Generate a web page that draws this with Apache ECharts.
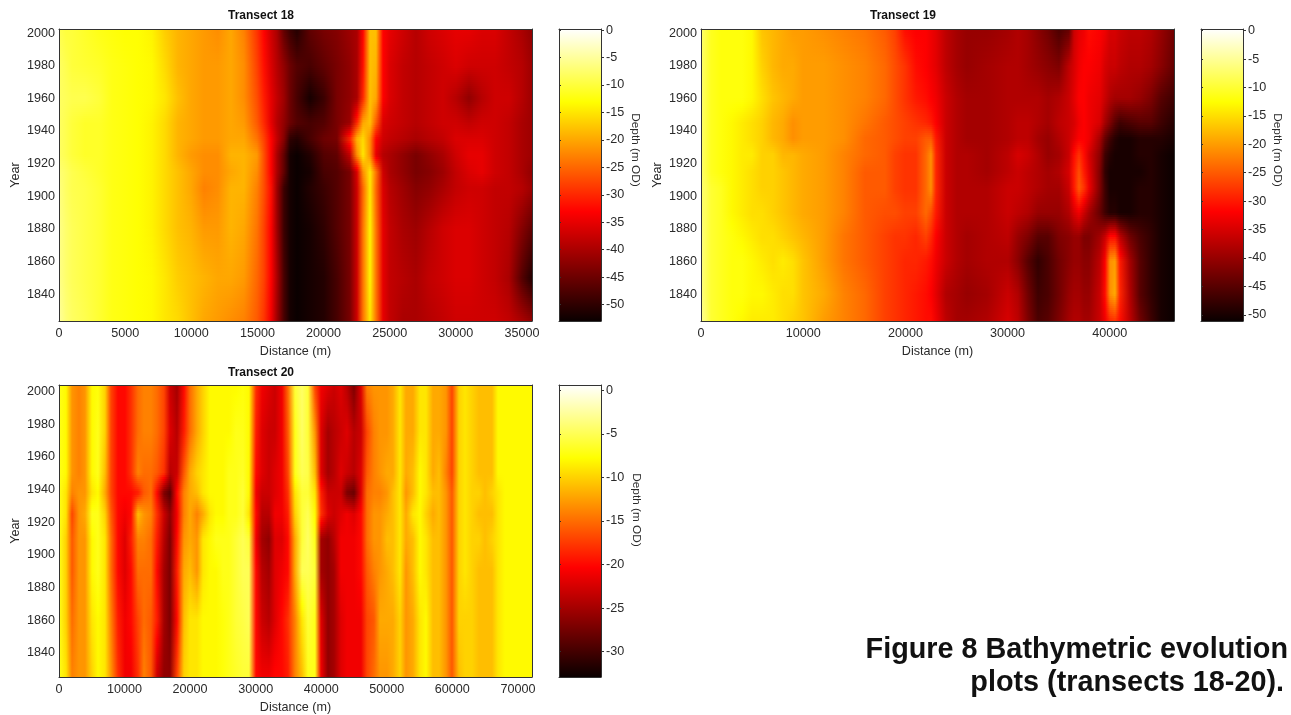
<!DOCTYPE html>
<html><head><meta charset="utf-8"><style>html,body{margin:0;padding:0;background:#fff}#c{width:1291px;height:715px}</style>
<script src="https://cdn.jsdelivr.net/npm/echarts@6/dist/echarts.min.js"></script></head><body><div id="c"></div>
<script>
// ---------- Transect 18 ----------
const t18Distance=[0,500,1000,2000,3000,4000,5000,6000,7000,8000,9000,10000,11000,12000,13000,14000,15000,15500,16000,16500,17000,17500,18000,19000,20000,21000,22000,22500,23000,23500,24000,24500,25000,26000,27000,28000,29000,30000,31000,32000,33000,34000,35000,35760];
const t18Years=[1823.5,1850,1880,1905,1915,1925,1935,1945,1960,1980,2002.5];
const t18Depth=[
[-5,-7,-8,-9,-10.5,-12,-12.5,-13,-13.5,-15,-16,-18,-20,-21,-22,-23,-26,-29,-34,-41,-48,-52,-53,-52,-51,-48,-44,-37,-24,-15,-24,-35,-38,-40,-40,-39,-38,-37,-37,-37,-37,-38,-40,-42],
[-6,-7.5,-8.5,-9.5,-10.5,-12,-12.5,-13,-13.5,-15,-17,-18,-19,-20,-20,-21,-25,-28,-33,-40,-48,-52,-53,-52,-51,-48,-44,-37,-24,-14,-24,-35,-38,-39,-40,-38,-37,-36,-36,-37,-38,-40,-47,-51],
[-6,-7.5,-8.5,-9.5,-10.5,-12,-12.5,-13,-14,-16,-18,-19,-21,-21,-19,-20,-24,-28,-33,-41,-49,-52,-53,-52,-50,-47,-44,-37,-24,-14,-24,-35,-38,-40,-41,-39,-37,-36,-36,-37,-38,-39,-43,-46],
[-6.5,-8,-9,-9.5,-10.5,-12,-12.5,-13,-14,-16,-18,-20,-23,-22,-19,-19,-23,-27,-32,-41,-49,-52,-53,-51,-49,-47,-44,-37,-25,-15,-25,-36,-39,-41,-43,-42,-40,-38,-37,-37,-38,-38,-39,-41],
[-7,-8,-9,-10,-11,-12,-12.5,-13,-14,-16,-18,-20,-22,-22,-20,-19,-22,-27,-33,-40,-46,-52,-53,-52,-48,-47,-44,-36,-22,-15,-24,-37,-40,-42,-44,-43,-41,-38,-36,-35,-37,-38,-40,-42],
[-8,-9,-10,-11,-11,-12,-12.5,-13,-14,-16,-19,-21,-22,-22,-19,-19,-21,-27,-33,-40,-46,-52,-53,-51,-47,-46,-38,-22,-15,-22,-35,-39,-40,-42,-44,-42,-40,-37,-35,-35,-37,-38,-40,-41],
[-8,-9,-10,-11,-11,-12,-12.5,-13,-14,-16,-19,-20,-21,-21,-20,-20,-24,-28,-33,-38,-43,-50,-51,-48,-45,-44,-30,-19,-16,-22,-33,-37,-38,-39,-40,-39,-38,-36,-36,-36,-37,-38,-40,-41],
[-8,-9,-10,-11,-11,-12,-12.5,-13,-14,-16,-19,-20,-21,-21,-20,-21,-26,-30,-35,-39,-42,-45,-47,-48,-47,-44,-41,-30,-20,-18,-26,-36,-37,-38,-39,-38,-37,-37,-38,-37,-37,-38,-40,-41],
[-8,-8.5,-9,-9,-10,-12,-12.5,-13,-13.5,-15,-18,-20,-21,-21,-20,-22,-27,-31,-35,-38,-41,-45,-48,-52,-49,-44,-42,-40,-30,-18,-20,-33,-36,-38,-39,-38,-37,-39,-42,-39,-37,-37,-39,-41],
[-8,-9,-10,-10.5,-11,-12,-12.5,-13,-13.5,-16,-19,-20,-21,-21,-20,-22,-28,-32,-36,-39,-42,-45,-47,-48,-46,-44,-42,-40,-32,-18,-19,-33,-36,-38,-39,-38,-37,-36,-37,-37,-37,-38,-39,-41],
[-9,-10,-10,-11,-12,-12.5,-13,-13,-14,-17,-19,-20,-21,-22,-20,-23,-29,-33,-37,-40,-46,-49,-51,-46,-44,-43,-41,-40,-33,-18,-18,-33,-35,-37,-39,-37,-36,-35,-35,-36,-36,-38,-40,-42]
];
// ---------- Transect 19 ----------
const t19Distance=[0,500,1000,2000,3000,4000,5000,6000,7000,8000,9000,10000,12000,14000,16000,18000,19000,20000,21000,22000,22500,23000,24000,25000,26000,28000,30000,31000,32000,33000,34000,35000,36000,36500,37000,37500,38000,39000,39500,40000,40500,41000,42000,43000,44000,45000,46280];
const t19Years=[1823.5,1840,1860,1875,1890,1905,1915,1925,1935,1945,1960,1980,2002.5];
const t19Depth=[
[-5,-7,-10,-11,-12,-13,-14,-14,-14,-15,-16,-17,-20,-22,-24,-27,-28,-29,-30,-31,-31,-33,-37,-39,-39,-38,-35,-37,-42,-46,-45,-42,-39,-38,-38,-39,-39,-36,-33,-29,-28,-31,-37,-43,-47,-50,-51],
[-6,-8,-10,-11,-12,-12,-13,-13,-14,-15,-15,-17,-19,-22,-24,-27,-28,-29,-30,-31,-32,-34,-38,-39,-40,-39,-36,-38,-43,-47,-46,-43,-40,-39,-39,-40,-40,-36,-31,-21,-19,-29,-38,-45,-48,-50,-51],
[-6,-8,-10,-11,-12,-12,-13,-14,-15,-14,-15,-17,-20,-23,-25,-27,-28,-29,-29,-30,-31,-33,-36,-38,-39,-38,-38,-41,-45,-48,-46,-43,-41,-40,-40,-41,-41,-37,-32,-21,-20,-30,-39,-45,-48,-50,-51],
[-6,-8,-10,-11,-12,-13,-14,-15,-15,-16,-17,-18,-20,-23,-25,-27,-28,-28,-29,-27,-29,-32,-36,-38,-39,-38,-37,-40,-42,-45,-45,-42,-41,-40,-40,-42,-42,-39,-36,-31,-31,-37,-43,-46,-48,-50,-51],
[-7,-8,-10,-11,-13,-14,-15,-15,-16,-17,-18,-19,-20,-22,-25,-26,-26,-27,-27,-24,-26,-30,-36,-38,-38,-38,-36,-37,-38,-40,-40,-40,-38,-35,-33,-36,-39,-44,-47,-49,-49,-50,-50,-49,-49,-50,-51],
[-7,-8,-10,-11,-13,-14,-15,-16,-16,-17,-18,-19,-20,-22,-25,-25,-27,-28,-28,-24,-21,-29,-36,-38,-38,-38,-36,-36,-37,-38,-39,-39,-36,-30,-25,-28,-33,-42,-47,-50,-50,-50,-50,-49,-49,-50,-51],
[-7,-9,-11,-12,-13,-14,-15,-16,-16,-17,-18,-19,-20,-22,-25,-25,-27,-28,-28,-24,-21,-29,-36,-38,-38,-39,-37,-36,-37,-38,-39,-38,-35,-30,-26,-30,-34,-42,-48,-50,-50,-50,-50,-50,-49,-50,-51],
[-7,-9,-11,-12,-13,-14,-14,-16,-16,-18,-18,-19,-20,-22,-24,-25,-27,-28,-28,-24,-21,-29,-36,-38,-38,-39,-37,-35,-36,-38,-40,-39,-36,-31,-28,-31,-35,-41,-47,-49,-50,-50,-50,-49,-49,-50,-51],
[-7,-9,-11,-12,-13,-14,-15,-16,-18,-19,-21,-20,-20,-21,-24,-25,-26,-27,-27,-25,-25,-30,-36,-38,-39,-39,-38,-37,-37,-39,-40,-38,-36,-34,-32,-32,-33,-39,-44,-47,-49,-50,-50,-49,-49,-49,-50],
[-7,-9,-11,-12,-13,-14,-15,-16,-18,-19,-21,-20,-20,-21,-23,-25,-26,-27,-28,-29,-30,-32,-36,-38,-39,-39,-38,-37,-37,-38,-39,-37,-36,-35,-33,-32,-33,-35,-39,-42,-45,-47,-46,-45,-45,-47,-49],
[-7,-9,-11,-12,-12,-12,-13,-15,-17,-18,-19,-20,-20,-21,-22,-24,-26,-28,-30,-31,-32,-33,-36,-38,-39,-39,-38,-38,-38,-38,-39,-38,-36,-34,-32,-32,-33,-34,-36,-38,-39,-39,-39,-40,-42,-45,-47],
[-7,-9,-11,-12,-12,-12,-13,-16,-18,-19,-19,-20,-20,-21,-22,-24,-26,-28,-31,-32,-33,-34,-37,-39,-40,-39,-38,-38,-39,-40,-41,-42,-37,-35,-33,-32,-32,-33,-35,-36,-36,-37,-38,-38,-39,-41,-44],
[-7,-9,-11,-12,-12,-12,-13,-17,-18,-19,-20,-20,-21,-22,-23,-25,-27,-31,-32,-32,-33,-34,-37,-39,-40,-40,-39,-38,-39,-41,-43,-46,-44,-36,-34,-33,-31,-32,-33,-35,-35,-36,-37,-37,-38,-40,-43]
];
// ---------- Transect 20 ----------
const t20Distance=[0,1000,2000,3000,4000,5000,6000,7000,8000,9000,10000,11000,12000,13000,14000,15000,16000,17000,18000,19000,20000,21000,22000,23000,24000,25000,26000,27000,28000,29000,30000,31000,32000,33000,34000,35000,36000,37000,38000,39000,40000,41000,42000,43000,44000,45000,46000,47000,48000,49000,50000,51000,52000,53000,54000,55000,56000,57000,58000,59000,60000,61000,62000,63000,64000,65000,66000,67000,68000,69000,70000,71000,72150];
const t20Years=[1825.2,1860,1890,1910,1925,1938,1950,1975,2004];
const t20Depth=[
[-7,-9,-14,-13,-13,-10,-8,-9,-13,-18,-21,-21,-18,-14,-16,-23,-26,-26,-17,-10,-9,-9,-8,-8,-8,-7.5,-7,-6.5,-6,-6,-20,-21,-21,-20,-20,-19,-14,-11,-7,-7,-21,-26,-25,-22,-21,-21,-21,-17,-15,-13,-13,-12,-10,-13,-12,-9,-8,-11,-11,-13,-16,-11,-10,-10,-11,-11,-11,-9,-8,-8,-8,-8,-8],
[-7,-10,-15,-13,-13,-9,-8,-9,-14,-19,-21,-20,-17,-15,-16,-19,-25,-27,-20,-11,-9,-9,-8,-8,-8,-7.5,-7,-6,-5.5,-5,-20,-23,-24,-22,-20,-18,-14,-9,-6,-7,-22,-26,-25,-22,-21,-21,-21,-17,-16,-12,-12,-12,-10,-13,-12,-9,-8,-11,-11,-13,-16,-10,-10,-10,-11,-11,-11,-9,-8,-8,-8,-8,-8],
[-7,-10,-16,-13,-13,-8,-7,-9,-15,-20,-22,-20,-15,-15,-15,-20,-25,-27,-19,-12,-11,-13,-9,-8,-8,-7,-7,-6,-5,-5,-20,-24,-25,-22,-21,-20,-12,-5,-5,-6,-25,-26,-25,-21,-21,-21,-20,-16,-14,-13,-12,-11,-9,-13,-11,-8,-9,-11,-11,-13,-16,-10,-9,-10,-11,-11,-11,-9,-8,-8,-8,-8,-8],
[-7,-10,-16,-13,-13,-8,-7,-9,-15,-20,-22,-19,-14,-14,-15,-19,-24,-27,-20,-13,-12,-13,-9,-8,-7,-7,-7,-6,-5,-6,-21,-25,-26,-22,-22,-20,-12,-6,-4.5,-7,-25,-26,-24,-21,-21,-21,-20,-15,-13,-13,-11,-11,-9,-12,-11,-8,-9,-11,-11,-13,-16,-10,-9,-10,-10,-11,-10,-9,-8,-8,-8,-8,-8],
[-7,-9,-17,-13,-12,-7,-7,-10,-16,-20,-21,-20,-11,-13,-14,-18,-23,-26,-21,-14,-12,-14,-12,-9,-8,-8,-7,-7,-6,-9,-20,-24,-24,-21,-21,-19,-10,-6,-5,-8,-18,-22,-23,-22,-21,-22,-20,-15,-13,-13,-12,-11,-9,-12,-9,-8,-10,-12,-11,-13,-16,-10,-9,-10,-11,-11,-11,-9,-8,-8,-8,-8,-8],
[-7,-9,-14,-13,-13,-9,-8,-12,-17,-20,-20,-20,-19,-16,-15,-20,-27,-29,-20,-14,-12,-11,-9,-8,-8,-8,-7,-7,-6,-8,-21,-23,-23,-22,-21,-18,-9,-6,-6,-9,-19,-23,-23,-23,-27,-28,-22,-15,-14,-14,-13,-11,-9,-13,-11,-8,-9,-11,-11,-13,-16,-10,-9,-10,-10,-11,-10,-9,-8,-8,-8,-8,-8],
[-7,-8,-13,-14,-13,-8,-7,-11,-17,-20,-20,-18,-14,-15,-15,-16,-18,-24,-23,-16,-12,-10,-9,-8,-8,-8,-7,-7,-6.5,-8,-20,-22,-23,-22,-21,-17,-7,-5,-5.5,-11,-22,-25,-24,-22,-23,-24,-22,-16,-14,-13,-12,-12,-9,-12,-11,-8,-9,-12,-11,-14,-17,-10,-9,-10,-11,-11,-11,-8,-8,-8,-8,-8,-8],
[-7,-8,-13,-14,-13,-8,-7,-10,-17,-20,-20,-18,-15,-14,-14,-15,-17,-22,-24,-19,-15,-12,-10,-8,-8,-8,-8,-7,-7,-8,-19,-22,-23,-23,-21,-16,-7,-4.5,-6,-13,-22,-25,-24,-23,-22,-24,-23,-17,-14,-13,-13,-12,-9,-12,-12,-9,-9,-12,-12,-13,-17,-10,-9,-10,-11,-11,-11,-8,-8,-8,-8,-8,-8],
[-7,-8,-13,-14,-13,-8,-7.5,-10,-17,-20,-20,-18,-15,-14,-14,-15,-17,-23,-25,-20,-15,-12,-10,-8,-8,-8,-8,-8,-7.5,-8,-18,-21,-22,-23,-21,-15,-6,-4.5,-6,-17,-21,-22,-23,-22,-24,-27,-22,-14,-13,-13,-13,-12,-9,-12,-12,-9,-9,-12,-12,-13,-17,-10,-9,-10,-11,-11,-11,-8,-8,-8,-8,-8,-8]
];
// ---------- Axes ticks and colour-bar ranges ----------
const yearTicks=[1840,1860,1880,1900,1920,1940,1960,1980,2000];
const t18DistanceTicks=[0,5000,10000,15000,20000,25000,30000,35000];
const t19DistanceTicks=[0,10000,20000,30000,40000];
const t20DistanceTicks=[0,10000,20000,30000,40000,50000,60000,70000];
const t18DepthTicks=[0,-5,-10,-15,-20,-25,-30,-35,-40,-45,-50];
const t19DepthTicks=[0,-5,-10,-15,-20,-25,-30,-35,-40,-45,-50];
const t20DepthTicks=[0,-5,-10,-15,-20,-25,-30];
const t18Range=[-53,0.2], t19Range=[-51.1,0.3], t20Range=[-32.9,0.6];

const FONT='"Liberation Sans", Arial, sans-serif', INK='#2a2a2a';
function hot(t){
  t=Math.max(0,Math.min(1,t));
  const r=t<.375?10+t/.375*245:255, g=t<.375?0:t<.75?(t-.375)/.375*255:255, b=t<.75?0:(t-.75)/.25*255;
  return 'rgb('+Math.round(r)+','+Math.round(g)+','+Math.round(b)+')';
}
function check(xs,ys,m){ if(m.length!==ys.length) throw new Error('rows'); m.forEach((r,i)=>{ if(r.length!==xs.length) throw new Error('row '+i+' has '+r.length+' not '+xs.length); }); }
function heatSeries(xi,yi,xs,ys,m,range){
  check(xs,ys,m);
  const data=[]; ys.forEach((y,j)=>xs.forEach((x,i)=>data.push([x,y,m[j][i],i,j])));
  const col=v=>hot((v-range[0])/(range[1]-range[0]));
  return {type:'custom',xAxisIndex:xi,yAxisIndex:yi,data,animation:false,silent:true,clip:true,z:2,
    encode:{x:0,y:1},
    renderItem(p,api){
      const i=api.value(3),j=api.value(4);
      if(i>=xs.length-1||j>=ys.length-1) return null;
      const a=api.coord([xs[i],ys[j]]), b=api.coord([xs[i+1],ys[j+1]]);
      const x0=Math.round(a[0]),x1=Math.round(b[0]),yB=Math.round(a[1]),yT=Math.round(b[1]);
      const children=[];
      for(let y=yT;y<yB;y+=2){
        const h=Math.min(2,yB-y), f=(yB-(y+h/2))/(yB-yT);
        const vL=m[j][i]+(m[j+1][i]-m[j][i])*f, vR=m[j][i+1]+(m[j+1][i+1]-m[j][i+1])*f;
        children.push({type:'rect',shape:{x:x0,y:y,width:x1-x0,height:h},
          style:{fill:{type:'linear',x:0,y:0,x2:1,y2:0,colorStops:[{offset:0,color:col(vL)},{offset:1,color:col(vR)}]}}});
      }
      return {type:'group',children};
    }};
}
function barSeries(xi,yi,range){
  return {type:'custom',xAxisIndex:xi,yAxisIndex:yi,data:[[0,range[0],range[1]]],animation:false,silent:true,z:2,
    encode:{y:[1,2]},
    renderItem(p,api){
      const a=api.coord([0,api.value(2)]), b=api.coord([1,api.value(1)]);
      return {type:'rect',shape:{x:a[0],y:a[1],width:b[0]-a[0],height:b[1]-a[1]},
        style:{fill:{type:'linear',x:0,y:0,x2:0,y2:1,colorStops:[0,.25,.625,1].map(o=>({offset:o,color:hot(1-o)}))}}};
    }};
}
const grids=[],xAxes=[],yAxes=[],series=[];
const lbl={color:INK,fontFamily:FONT,fontSize:12.6};
const lineS={show:true,onZero:false,lineStyle:{color:'#333',width:1}};
function addPanel(g,xs,ys,m,xTicks,yRange,xMax,cRange){
  const gi=grids.length; grids.push(g);
  const xi=xAxes.length, yi=yAxes.length;
  xAxes.push({type:'value',gridIndex:gi,position:'bottom',min:0,max:xMax,z:5,
    name:'Distance (m)',nameLocation:'middle',nameGap:24,nameTextStyle:lbl,
    axisLine:lineS,axisTick:{show:false},splitLine:{show:false},
    axisLabel:Object.assign({},lbl,{customValues:xTicks,margin:6,formatter:v=>String(v)})});
  xAxes.push({type:'value',gridIndex:gi,position:'top',min:0,max:xMax,z:5,axisLine:lineS,axisTick:{show:false},axisLabel:{show:false},splitLine:{show:false}});
  yAxes.push({type:'value',gridIndex:gi,position:'left',min:yRange[0],max:yRange[1],z:5,
    name:'Year',nameLocation:'middle',nameGap:37,nameRotate:90,nameTextStyle:lbl,
    axisLine:lineS,axisTick:{show:false},splitLine:{show:false},
    axisLabel:Object.assign({},lbl,{customValues:yearTicks,margin:4,formatter:v=>String(v)})});
  yAxes.push({type:'value',gridIndex:gi,position:'right',min:yRange[0],max:yRange[1],z:5,axisLine:lineS,axisTick:{show:false},axisLabel:{show:false},splitLine:{show:false}});
  series.push(heatSeries(xi,yi,xs,ys,m,cRange));
}
function addBar(g,range,ticks){
  const gi=grids.length; grids.push(g);
  const xi=xAxes.length, yi=yAxes.length;
  xAxes.push({type:'value',gridIndex:gi,position:'bottom',min:0,max:1,z:5,axisLine:lineS,axisTick:{show:false},axisLabel:{show:false},splitLine:{show:false}});
  xAxes.push({type:'value',gridIndex:gi,position:'top',min:0,max:1,z:5,axisLine:lineS,axisTick:{show:false},axisLabel:{show:false},splitLine:{show:false}});
  yAxes.push({type:'value',gridIndex:gi,position:'right',min:range[0],max:range[1],z:5,axisLine:lineS,
    axisTick:{show:true,length:3,lineStyle:{color:'#333'},customValues:ticks},splitLine:{show:false},
    axisLabel:Object.assign({},lbl,{customValues:ticks,margin:5,formatter:v=>String(v)})});
  yAxes.push({type:'value',gridIndex:gi,position:'left',min:range[0],max:range[1],z:5,axisLine:lineS,
    axisTick:{show:true,inside:true,length:2,lineStyle:{color:'#333'},customValues:ticks},axisLabel:{show:false},splitLine:{show:false}});
  series.push(barSeries(xi,yi,range));
}
addPanel({left:59,top:29,width:473,height:292},t18Distance,t18Years,t18Depth,t18DistanceTicks,[1823.5,2002.5],35760,t18Range);
addBar({left:559,top:29,width:42,height:292},t18Range,t18DepthTicks);
addPanel({left:701,top:29,width:473,height:292},t19Distance,t19Years,t19Depth,t19DistanceTicks,[1823.5,2002.5],46280,t19Range);
addBar({left:1201,top:29,width:42,height:292},t19Range,t19DepthTicks);
addPanel({left:59,top:385,width:473,height:292},t20Distance,t20Years,t20Depth,t20DistanceTicks,[1825.2,2004],72150,t20Range);
addBar({left:559,top:385,width:42,height:292},t20Range,t20DepthTicks);

const titleStyle={fontFamily:FONT,fontSize:12,fontWeight:'bold',color:'#111'};
const depthLabel=(x,y)=>({type:'text',x,y,rotation:-Math.PI/2,style:{text:'Depth (m OD)',fontFamily:FONT,fontSize:11.8,fill:INK,align:'center',verticalAlign:'middle'}});
const caption=(x,y,t)=>({type:'text',x,y,style:{text:t,fontFamily:FONT,fontSize:28.8,fontWeight:'bold',fill:'#111',align:'right',verticalAlign:'middle'}});
const chart=echarts.init(document.getElementById('c'),null,{renderer:'canvas',width:1291,height:715});
chart.setOption({animation:false,backgroundColor:'#fff',
  title:[
    {text:'Transect 18',left:261,top:10,textAlign:'center',textStyle:titleStyle,padding:0},
    {text:'Transect 19',left:903,top:10,textAlign:'center',textStyle:titleStyle,padding:0},
    {text:'Transect 20',left:261,top:367,textAlign:'center',textStyle:titleStyle,padding:0}
  ],
  grid:grids,xAxis:xAxes,yAxis:yAxes,series,
  graphic:{elements:[depthLabel(635,150),depthLabel(1277,150),depthLabel(636,510),
    caption(1288,650,'Figure 8 Bathymetric evolution'),caption(1284,683,'plots (transects 18-20).')]}
});
</script></body></html>
